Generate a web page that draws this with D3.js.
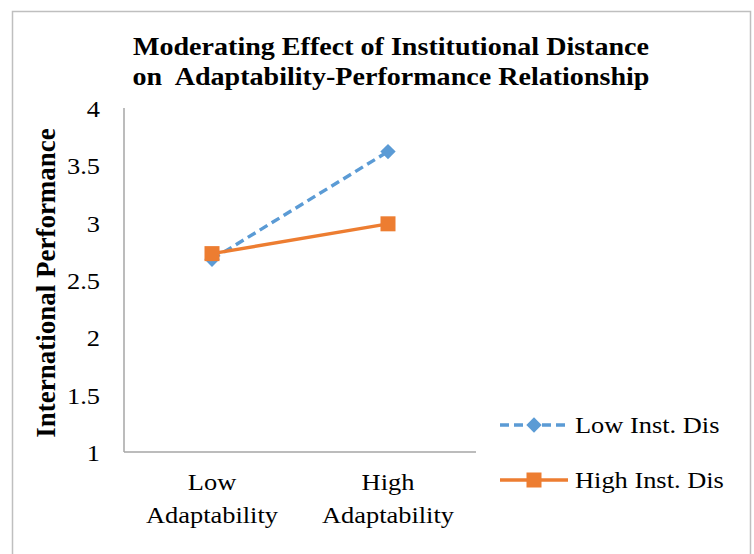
<!DOCTYPE html>
<html>
<head>
<meta charset="utf-8">
<script src="https://cdn.jsdelivr.net/npm/d3@7"></script>
<style>
  html, body { margin: 0; padding: 0; background: #fff; }
  svg { display: block; }
  text { font-family: "Liberation Serif", "Times New Roman", serif; fill: #000; white-space: pre; }
</style>
</head>
<body>
<svg id="chart" width="754" height="554"></svg>
<script>
const categories = ["Low|Adaptability", "High|Adaptability"];
const seriesNames = ["Low Inst. Dis", "High Inst. Dis"];
const lowInstDis = [2.68, 3.62];
const highInstDis = [2.73, 2.99];
const yTicks = [1, 1.5, 2, 2.5, 3, 3.5, 4];
const titleLines = ["Moderating Effect of Institutional Distance", "on  Adaptability-Performance Relationship"];
const yTitle = "International Performance";

const colors = ["#5B9BD5", "#ED7D31"];
const series = [
  { name: seriesNames[0], values: lowInstDis, color: colors[0], dash: "9,5", marker: "diamond" },
  { name: seriesNames[1], values: highInstDis, color: colors[1], dash: null, marker: "square" }
];

const SX = 1.1; // horizontal stretch of the reference text

const svg = d3.select("#chart");

// outer border
svg.append("rect").attr("x", 12.5).attr("y", 11.5).attr("width", 738).attr("height", 560)
  .attr("fill", "none").attr("stroke", "#BFBFBF").attr("stroke-width", 1.5);

const plot = { left: 124, right: 476, top: 108, bottom: 452 };

const x = d3.scaleBand().domain(categories).range([plot.left, plot.right]);
const y = d3.scaleLinear().domain([1, 4]).range([plot.bottom, plot.top]);

function stretchedText(parent, px, py, txt, opts) {
  const g = parent.append("g").attr("transform", `translate(${px},${py}) scale(${opts.sx || SX},1)`);
  return g.append("text").attr("x", 0).attr("y", 0)
    .attr("text-anchor", opts.anchor || "start")
    .attr("font-size", opts.size || 24)
    .attr("font-weight", opts.weight || "normal")
    .attr("dy", opts.dy || null)
    .text(txt);
}

// title
titleLines.forEach((t, i) => {
  stretchedText(svg, 391, 55 + i * 30, t, { anchor: "middle", size: 26, weight: "bold", sx: 1.08 });
});

// y-axis
const yAxis = d3.axisLeft(y).tickValues(yTicks).tickSize(0).tickPadding(0).tickFormat(d3.format("~g"));
const yg = svg.append("g").attr("transform", `translate(${plot.left},0)`).call(yAxis);
yg.select(".domain").remove();
yg.selectAll(".tick").each(function(d) {
  const tk = d3.select(this);
  const label = tk.select("text").text();
  tk.select("text").remove();
  stretchedText(tk, -24, 0, label, { anchor: "end", size: 24, dy: "0.35em" });
});

svg.append("line").attr("x1", plot.left).attr("x2", plot.left)
  .attr("y1", y(4)).attr("y2", y(1)).attr("stroke", "#A6A6A6").attr("stroke-width", 1.5);

// x-axis
const xAxis = d3.axisBottom(x).tickSize(0).tickFormat("");
const xg = svg.append("g").attr("transform", `translate(0,${plot.bottom})`).call(xAxis);
xg.select(".domain").attr("stroke", "#A6A6A6").attr("stroke-width", 1.5)
  .attr("d", `M${plot.left},0H${plot.right}`);
xg.selectAll(".tick").each(function(d) {
  const tk = d3.select(this);
  d.split("|").forEach((part, i) => {
    stretchedText(tk, 0, 38 + i * 33, part, { anchor: "middle", size: 24 });
  });
});

// y title
svg.append("text").attr("transform", `translate(55,${(plot.top + plot.bottom) / 2 + 3}) rotate(-90)`)
  .attr("text-anchor", "middle").attr("font-weight", "bold").attr("font-size", 27)
  .text(yTitle);

const cx = (c) => x(c) + x.bandwidth() / 2;
const line = d3.line().x((d, i) => cx(categories[i])).y(d => y(d));

function drawMarker(g, type, px, py, color) {
  if (type === "diamond") {
    g.append("path").attr("d", d3.symbol().type(d3.symbolDiamond2).size(150)())
      .attr("transform", `translate(${px},${py})`).attr("fill", color);
  } else {
    g.append("rect").attr("x", px - 7.5).attr("y", py - 7.5).attr("width", 15).attr("height", 15)
      .attr("fill", color);
  }
}

series.forEach(s => {
  const g = svg.append("g");
  g.append("path").datum(s.values).attr("d", line).attr("fill", "none")
    .attr("stroke", s.color).attr("stroke-width", 3.4)
    .attr("stroke-dasharray", s.dash);
  s.values.forEach((v, i) => drawMarker(g, s.marker, cx(categories[i]), y(v), s.color));
});

// legend
series.forEach((s, i) => {
  const ly = 425 + i * 55;
  const g = svg.append("g");
  g.append("line").attr("x1", 500).attr("x2", 568).attr("y1", ly).attr("y2", ly)
    .attr("stroke", s.color).attr("stroke-width", 3.4).attr("stroke-dasharray", s.dash);
  drawMarker(g, s.marker, 534, ly, s.color);
  stretchedText(g, 575, ly, s.name, { size: 24, dy: "0.35em" });
});
</script>
</body>
</html>
